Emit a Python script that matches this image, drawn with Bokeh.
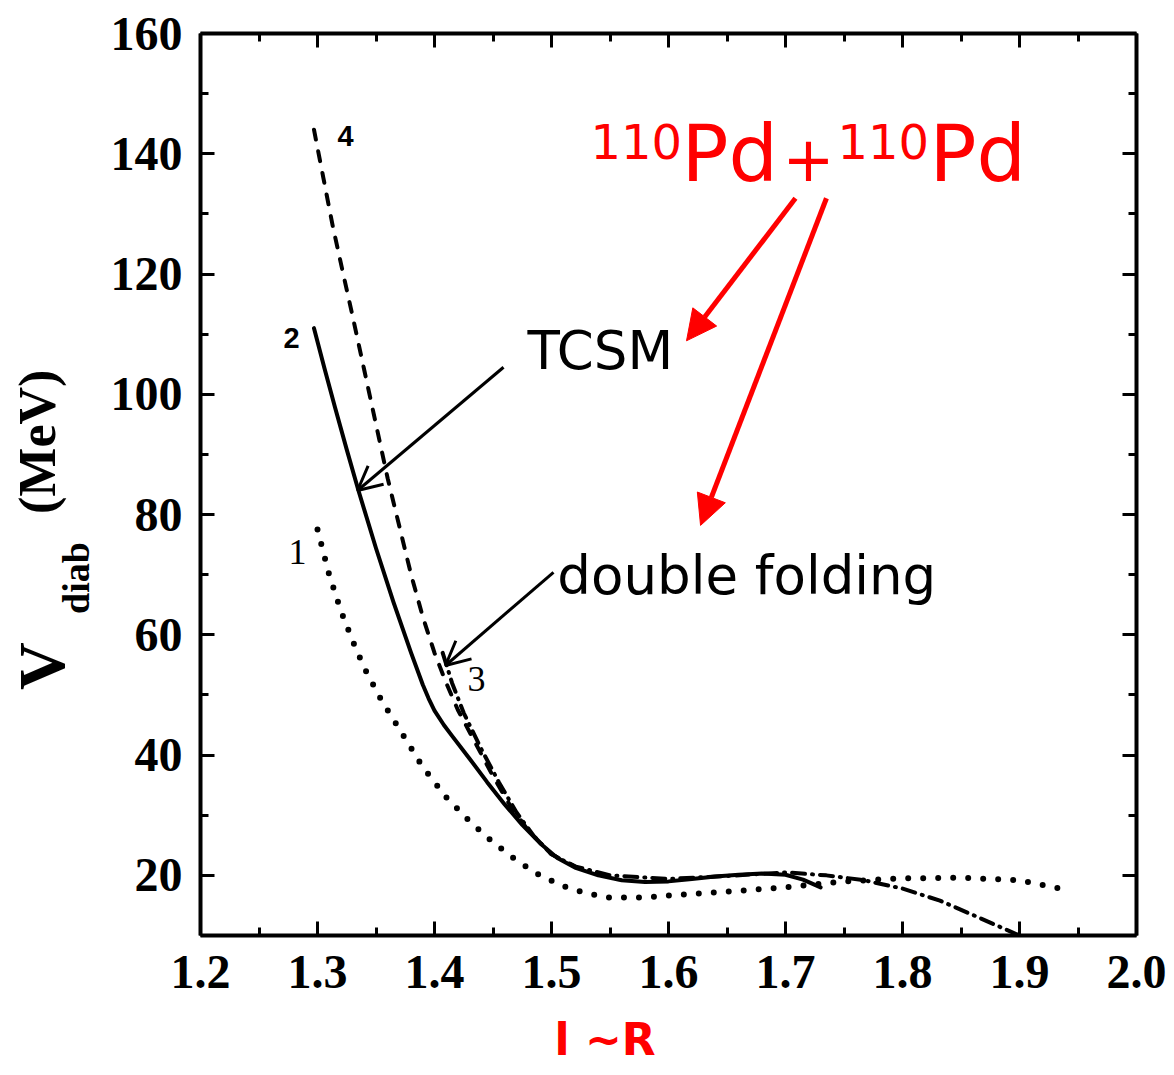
import math
from bokeh.plotting import figure
from bokeh.models import (Label, Arrow, NormalHead, OpenHead, LinearAxis, FixedTicker, Range1d)
from bokeh.layouts import column, row
from bokeh.core.properties import value
from bokeh.embed import file_html
from bokeh.resources import INLINE

# ---- data ----
x_major = [1.2, 1.3, 1.4, 1.5, 1.6, 1.7, 1.8, 1.9, 2.0]
x_labels = ["1.2", "1.3", "1.4", "1.5", "1.6", "1.7", "1.8", "1.9", "2.0"]
x_minor = [1.25, 1.35, 1.45, 1.55, 1.65, 1.75, 1.85, 1.95]
y_major = [20, 40, 60, 80, 100, 120, 140, 160]
y_minor = [10, 30, 50, 70, 90, 110, 130, 150]

# curve 1 (dotted)
c1_x = [1.300, 1.310, 1.320, 1.330, 1.340, 1.355, 1.371, 1.390, 1.410, 1.430, 1.450, 1.470,
        1.490, 1.510, 1.530, 1.550, 1.580, 1.610, 1.650, 1.700, 1.750, 1.800, 1.850, 1.900, 1.935]
c1_y = [77.5, 70.0, 64.0, 59.0, 54.5, 49.0, 44.0, 38.0, 33.0, 29.0, 25.5, 22.5,
        20.0, 18.2, 17.0, 16.3, 16.3, 16.8, 17.3, 18.0, 19.0, 19.5, 19.6, 19.2, 17.8]

# curve 2 (solid)
c2_x = [1.297, 1.306, 1.315, 1.325, 1.335, 1.350, 1.365, 1.380, 1.390, 1.395, 1.400, 1.408,
        1.415, 1.430, 1.445, 1.460, 1.475, 1.490, 1.505, 1.520, 1.540, 1.560, 1.580, 1.600,
        1.620, 1.640, 1.660, 1.680, 1.700, 1.715, 1.730]
c2_y = [111.0, 104.3, 97.8, 90.8, 84.0, 74.4, 65.4, 57.0, 51.7, 49.4, 47.4, 45.0,
        43.2, 39.4, 35.5, 31.8, 28.4, 25.4, 22.9, 21.3, 20.0, 19.2, 18.9, 19.0,
        19.4, 19.8, 20.1, 20.3, 20.1, 19.3, 18.0]

# curve 3 (dash-dot)
c3_x = [1.407, 1.415, 1.425, 1.440, 1.455, 1.470, 1.485, 1.500, 1.520, 1.550, 1.600, 1.650,
        1.700, 1.735, 1.767, 1.800, 1.832, 1.865, 1.900]
c3_y = [57.0, 52.0, 47.0, 41.0, 35.5, 30.5, 26.5, 23.5, 21.5, 20.0, 19.4, 19.9,
        20.5, 20.0, 19.2, 17.8, 15.8, 13.0, 10.0]

# curve 4 (dashed)
c4_x = [1.297, 1.305, 1.313, 1.322, 1.330, 1.340, 1.350, 1.360, 1.370, 1.380, 1.390, 1.400,
        1.410, 1.420, 1.435, 1.450, 1.465, 1.480, 1.500, 1.520]
c4_y = [144.0, 136.0, 128.0, 120.0, 113.0, 104.0, 95.0, 86.0, 78.0, 70.0, 63.0, 57.0,
        52.0, 47.5, 42.0, 36.5, 31.5, 27.5, 23.5, 21.5]

serif = "Liberation Serif"
sans = "DejaVu Sans"
red = "#ff0000"

LEFT_W = 100
MAIN_H = 1010
TOTAL_W = 1166
BOT_H = 57

p = figure(frame_width=936, frame_height=902, min_border_left=100, min_border_top=33,
           min_border_right=30, min_border_bottom=MAIN_H - 33 - 902,
           x_range=Range1d(1.2, 2.0), y_range=Range1d(10, 160),
           output_backend="svg", toolbar_location=None, background_fill_color="white",
           border_fill_color="white")
p.outline_line_color = None
p.xgrid.visible = False
p.ygrid.visible = False


def style_axis(ax, ticks, minor, overrides=None, show_labels=True):
    ax.ticker = FixedTicker(ticks=ticks, minor_ticks=minor)
    ax.axis_line_width = 4
    ax.axis_line_color = "black"
    ax.major_tick_in = 14
    ax.major_tick_out = 0
    ax.minor_tick_in = 8
    ax.minor_tick_out = 0
    ax.major_tick_line_width = 3
    ax.minor_tick_line_width = 3
    ax.major_tick_line_color = "black"
    ax.minor_tick_line_color = "black"
    if overrides:
        ax.major_label_overrides = overrides
    if show_labels:
        ax.major_label_text_font = serif
        ax.major_label_text_font_style = "bold"
        ax.major_label_text_font_size = "48px"
        ax.major_label_text_color = "black"
    else:
        ax.major_label_text_font_size = "0px"
        ax.major_label_standoff = 0


xo = {v: s for v, s in zip(x_major, x_labels)}
style_axis(p.xaxis[0], x_major, x_minor, xo)
p.xaxis[0].major_label_standoff = 20
style_axis(p.yaxis[0], y_major, y_minor)
p.yaxis[0].major_label_standoff = 18

top = LinearAxis()
style_axis(top, x_major, x_minor, show_labels=False)
p.add_layout(top, "above")
right = LinearAxis()
style_axis(right, y_major, y_minor, show_labels=False)
p.add_layout(right, "right")

# curves
p.line(c1_x, c1_y, line_color="black", line_width=6, line_dash="0 15", line_cap="round")
p.line(c2_x, c2_y, line_color="black", line_width=4, line_cap="round", line_join="round")
p.line(c3_x, c3_y, line_color="black", line_width=4, line_dash="13 7 1 7", line_cap="round")
p.line(c4_x, c4_y, line_color="black", line_width=4, line_dash="10 12", line_cap="round")


def lab(x, y, text, font, size, color="black", style="normal", align="left"):
    p.add_layout(Label(x=x, y=y, text=text, text_font=font, text_font_size=size,
                       text_color=color, text_font_style=style, text_align=align,
                       text_baseline="middle"))


# curve number labels
lab(1.3239, 143.0, "4", "Liberation Sans", "29px", style="bold", align="center")
lab(1.2778, 109.4, "2", "Liberation Sans", "29px", style="bold", align="center")
lab(1.2829, 73.7, "1", serif, "36px", align="center")
lab(1.4360, 52.6, "3", serif, "36px", align="center")

# black annotations
lab(1.4795, 107.3, "TCSM", sans, "53px")
lab(1.5050, 69.9, "double folding", sans, "53px")
p.add_layout(Arrow(end=OpenHead(line_color="black", line_width=3, size=24),
                   x_start=1.459, y_start=104.5, x_end=1.3342, y_end=84.0,
                   line_color="black", line_width=3))
p.add_layout(Arrow(end=OpenHead(line_color="black", line_width=3, size=24),
                   x_start=1.5017, y_start=70.4, x_end=1.4094, y_end=54.9,
                   line_color="black", line_width=3))

# red title
lab(1.5333, 142.1, "110", sans, "48px", color=red)
lab(1.6111, 140.0, "Pd", sans, "78px", color=red)
lab(1.7197, 139.3, "+", sans, "62px", color=red, align="center")
lab(1.7444, 142.1, "110", sans, "48px", color=red)
lab(1.8231, 140.0, "Pd", sans, "78px", color=red)
p.add_layout(Arrow(end=NormalHead(fill_color=red, line_color=red, size=30),
                   x_start=1.7085, y_start=132.6, x_end=1.6154, y_end=108.9,
                   line_color=red, line_width=5))
p.add_layout(Arrow(end=NormalHead(fill_color=red, line_color=red, size=30),
                   x_start=1.7350, y_start=132.6, x_end=1.6274, y_end=78.2,
                   line_color=red, line_width=5))

# ---- left strip holding the rotated y-axis title (pixel coordinates from top) ----
left = figure(width=LEFT_W, height=MAIN_H, x_range=Range1d(0, LEFT_W), y_range=Range1d(MAIN_H, 0),
              x_axis_location=None, y_axis_location=None, min_border=0,
              output_backend="svg", toolbar_location=None, border_fill_color="white")
left.outline_line_color = None
left.xgrid.visible = False
left.ygrid.visible = False
left.text(x=[41], y=[735], text=["V"], angle=math.pi / 2, text_font=value(serif),
          text_font_style="bold", text_font_size="66px", text_color="black",
          text_align="left", text_baseline="middle")
left.text(x=[75], y=[650], text=["diab"], angle=math.pi / 2, text_font=value(serif),
          text_font_style="bold", text_font_size="38px", text_color="black",
          text_align="left", text_baseline="middle")
left.text(x=[37], y=[538], text=["(MeV)"], angle=math.pi / 2, text_font=value(serif),
          text_font_style="bold", text_font_size="52px", text_color="black",
          text_align="left", text_baseline="middle")

# ---- bottom strip holding the x-axis title ----
bottom = figure(width=TOTAL_W, height=BOT_H, x_range=Range1d(0, TOTAL_W), y_range=Range1d(BOT_H, 0),
                x_axis_location=None, y_axis_location=None, min_border=0,
                output_backend="svg", toolbar_location=None, border_fill_color="white")
bottom.outline_line_color = None
bottom.xgrid.visible = False
bottom.ygrid.visible = False
bottom.text(x=[554], y=[29], text=["l ~R"], text_font=value(sans), text_font_style="bold",
            text_font_size="44px", text_color=red, text_align="left", text_baseline="middle")

layout = column(row(left, p), bottom)
open("out.html", "w").write(file_html(layout, INLINE))
